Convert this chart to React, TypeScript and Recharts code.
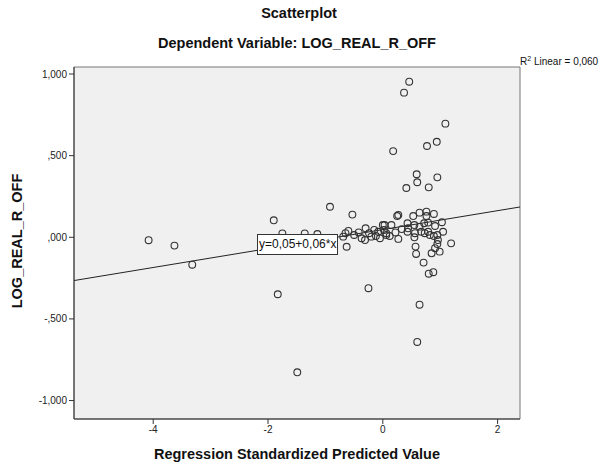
import React from 'react';
import { ScatterChart, Scatter, XAxis, YAxis, ReferenceLine, ReferenceArea } from 'recharts';

// Regression standardized predicted value (x) vs LOG_REAL_R_OFF (y)
const predicted: number[] = [
  -4.08, -3.63, -3.32, -1.90, -1.83, -1.49, -1.75, -1.36, -1.14, -0.92, -0.53, -0.25, -0.63,
  0.46, 0.37, 1.09, 0.94, 0.77, 0.18, 0.59, 0.60, 0.95, 0.41, 0.80, 0.64, 0.60,
  -0.65, -0.69, -0.60, -0.50, -0.37, -0.31, -0.30, -0.24, -0.20, -0.12, -0.08, 0.0, 0.02, 0.06, -0.05,
  0.27, 0.25, 0.53, 0.64, 0.76, 0.89, 0.76, 1.03, 0.15, 0.03, 0.06, 0.12, 0.27, 0.43, 0.44, 0.43,
  0.55, 0.56, 0.64, 0.67, 0.55, 0.72, 0.79, 0.73, 0.79, 0.82, 0.91, 1.05, 0.89, 0.95, 0.96, 0.95,
  1.19, 0.57, 0.58, 0.85, 0.99, 0.91, 0.71, 0.80, 0.88, 0.33, 0.22, -0.15, -0.42,
];
const logRealROff: number[] = [
  -0.018, -0.051, -0.168, 0.104, -0.349, -0.827, 0.024, 0.024, 0.020, 0.187, 0.139, -0.312, -0.058,
  0.953, 0.886, 0.696, 0.585, 0.559, 0.528, 0.386, 0.337, 0.367, 0.302, 0.306, -0.413, -0.641,
  0.025, 0.004, 0.039, 0.014, -0.006, -0.017, 0.055, 0.025, 0.004, 0.008, 0.034, 0.075, 0.045, 0.014, -0.006,
  0.137, 0.130, 0.130, 0.151, 0.157, 0.143, 0.130, 0.092, 0.075, 0.075, 0.025, 0.008, -0.010, 0.086, 0.055, 0.034,
  0.075, 0.025, 0.065, 0.034, 0.000, 0.086, 0.090, 0.025, 0.034, 0.014, 0.069, 0.034, 0.008, 0.014, -0.017, -0.041,
  -0.037, -0.057, -0.102, -0.098, -0.088, -0.067, -0.155, -0.223, -0.214, 0.050, 0.030, 0.045, 0.030,
];

const xTicks: number[] = [-4, -2, 0, 2];
const yTicks: number[] = [-1, -0.5, 0, 0.5, 1];
const xDomain: [number, number] = [-5.38, 2.39];
const yDomain: [number, number] = [-1.113, 1.043];

// Fit line (rounded label shows y=0,05+0,06*x)
const intercept = 0.047;
const slope = 0.058;
const equationText = 'y=0,05+0,06*x';
const r2Text = '0,060';

const points = predicted.map((x, i) => ({ x, y: logRealROff[i] }));

const fmtY = (v: number) => {
  const s = Math.abs(v).toFixed(3).replace('.', ',');
  const t = s.startsWith('0,') ? s.slice(1) : s;
  return (v < 0 ? '-' : '') + t;
};

const FONT = '"Liberation Sans", Arial, sans-serif';
const BIG = 14.5;

const Ring = (p: any) => (
  <circle cx={p.cx} cy={p.cy} r={3.4} fill="none" stroke="#333" strokeWidth={1.1} />
);

export default function App() {
  return (
    <div style={{ position: 'absolute', left: 0, top: 0, width: 611, height: 468, background: '#fff', fontFamily: FONT }}>
      <div style={{ position: 'absolute', left: 0, width: 598, top: 5, lineHeight: '17px', textAlign: 'center', fontWeight: 'bold', fontSize: BIG, color: '#111' }}>
        Scatterplot
      </div>
      <div style={{ position: 'absolute', left: 0, width: 594, top: 35, lineHeight: '17px', textAlign: 'center', fontWeight: 'bold', fontSize: BIG, color: '#111' }}>
        Dependent Variable: LOG_REAL_R_OFF
      </div>
      <div style={{ position: 'absolute', left: 520, top: 55, fontSize: 10, color: '#111' }}>
        R<sup style={{ fontSize: 7 }}>2</sup> Linear = {r2Text}
      </div>
      <div style={{ position: 'absolute', left: -83, top: 232, width: 200, height: 18, lineHeight: '18px', transform: 'rotate(-90deg)', textAlign: 'center' }}>
        <span style={{ whiteSpace: 'nowrap', fontWeight: 'bold', fontSize: BIG, color: '#111' }}>LOG_REAL_R_OFF</span>
      </div>
      <div style={{ position: 'absolute', left: 74, width: 446, top: 446, lineHeight: '17px', textAlign: 'center', fontWeight: 'bold', fontSize: BIG, color: '#111' }}>
        Regression Standardized Predicted Value
      </div>
      <ScatterChart width={611} height={468} margin={{ top: 67, right: 91, bottom: 19, left: 14 }}>
        <ReferenceArea x1={xDomain[0]} x2={xDomain[1]} y1={yDomain[0]} y2={yDomain[1]} fill="#f0f0f0" fillOpacity={1} stroke="#777" strokeWidth={1} />
        <XAxis
          type="number"
          dataKey="x"
          domain={xDomain}
          ticks={xTicks}
          allowDataOverflow
          height={30}
          stroke="#333"
          tickSize={5}
          tick={{ fontSize: 10, fill: '#222', fontFamily: FONT }}
          tickFormatter={(v: number) => String(v)}
        />
        <YAxis
          type="number"
          dataKey="y"
          domain={yDomain}
          ticks={yTicks}
          allowDataOverflow
          width={60}
          stroke="#333"
          tickSize={5}
          tick={{ fontSize: 10, fill: '#222', fontFamily: FONT }}
          tickFormatter={fmtY}
        />
        <ReferenceLine
          segment={[
            { x: xDomain[0], y: intercept + slope * xDomain[0] },
            { x: xDomain[1], y: intercept + slope * xDomain[1] },
          ]}
          stroke="#222"
          strokeWidth={1}
        />
        <Scatter data={points} shape={Ring} isAnimationActive={false} />
      </ScatterChart>
      <div style={{ position: 'absolute', left: 257, top: 234, height: 19, lineHeight: '19px', padding: '0 1px', border: '1px solid #333', background: '#fff', fontSize: 12, color: '#111', whiteSpace: 'nowrap' }}>
        {equationText}
      </div>
    </div>
  );
}
